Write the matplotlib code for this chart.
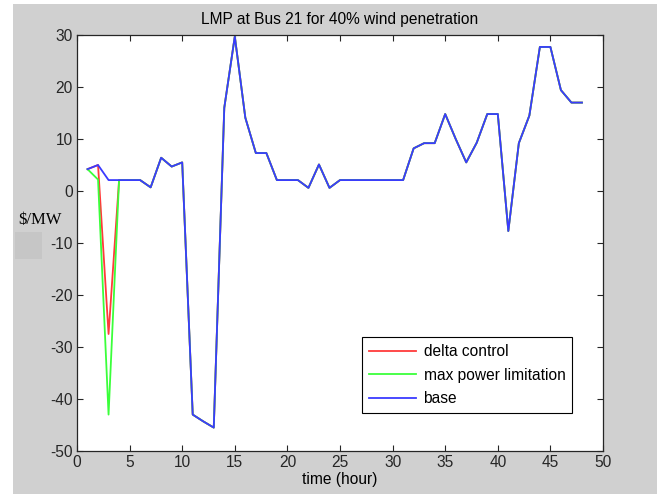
import matplotlib
matplotlib.use("Agg")
import matplotlib.pyplot as plt
from matplotlib.patches import Rectangle

hours = list(range(1, 49))

base = [4.2, 5.0, 2.1, 2.1, 2.1, 2.1, 0.7, 6.4, 4.7, 5.5,
        -43.0, -44.3, -45.5, 16.0, 29.7, 14.1, 7.3, 7.3, 2.1, 2.1,
        2.1, 0.6, 5.1, 0.6, 2.1, 2.1, 2.1, 2.1, 2.1, 2.1,
        2.1, 8.2, 9.2, 9.2, 14.8, 10.0, 5.5, 9.3, 14.8, 14.8,
        -7.7, 9.2, 14.5, 27.7, 27.7, 19.4, 17.0, 17.0]

# the two controls only differ from base in the first hours
delta_control = [4.2, 5.0, -27.5, 2.1] + base[4:]
max_power = [4.2, 2.2, -43.0, 2.1] + base[4:]

plt.rcParams['font.family'] = ['Liberation Sans', 'DejaVu Sans']
plt.rcParams['axes.unicode_minus'] = False

fig = plt.figure(figsize=(6.57, 4.94), dpi=100, facecolor='white')
# grey window background, leaving a thin white strip on the left and top
fig.patches.append(Rectangle((13 / 657, 0), 1 - 13 / 657, 490 / 494,
                             transform=fig.transFigure, facecolor='#d0d0d0',
                             edgecolor='none', zorder=-10))
fig.patches.append(Rectangle((15 / 657, 1 - 259 / 494), 27 / 657, 27 / 494,
                             transform=fig.transFigure, facecolor='#c6c6c6',
                             edgecolor='none', zorder=-9))

ax = fig.add_axes([77 / 657, 1 - 451 / 494, 526 / 657, 416 / 494])
ax.set_facecolor('white')

ax.plot(hours, delta_control, color='#ff3a3a', lw=1.3, label='delta control')
ax.plot(hours, max_power, color='#3aff3a', lw=1.3, label='max power limitation')
ax.plot(hours, base, color='#3a3aff', lw=1.3, label='base')

ax.set_xlim(0, 50)
ax.set_ylim(-50, 30)
ax.set_xticks(range(0, 51, 5))
ax.set_yticks(range(-50, 31, 10))
ax.tick_params(direction='in', top=True, right=True, length=4, width=0.8,
               labelsize=11.2, colors='#262626', pad=3)
for s in ax.spines.values():
    s.set_color('#262626')
    s.set_linewidth(0.9)

ax.set_title('LMP at Bus 21 for 40% wind penetration', fontsize=11.2, pad=8)
ax.set_xlabel('time (hour)', fontsize=11.2, labelpad=1)
fig.text(18 / 657, 1 - 220 / 494, '$/MW', family='Liberation Serif',
         fontsize=12, va='center', ha='left')

leg = ax.legend(loc='lower left', bbox_to_anchor=(0.542, 0.091),
                borderaxespad=0, fancybox=False, edgecolor='black',
                framealpha=1, fontsize=11.2, handlelength=3.0,
                labelspacing=0.55, borderpad=0.45, handletextpad=0.5)
leg.get_frame().set_linewidth(0.8)

fig.savefig('out.png', dpi=100, facecolor=fig.get_facecolor())
